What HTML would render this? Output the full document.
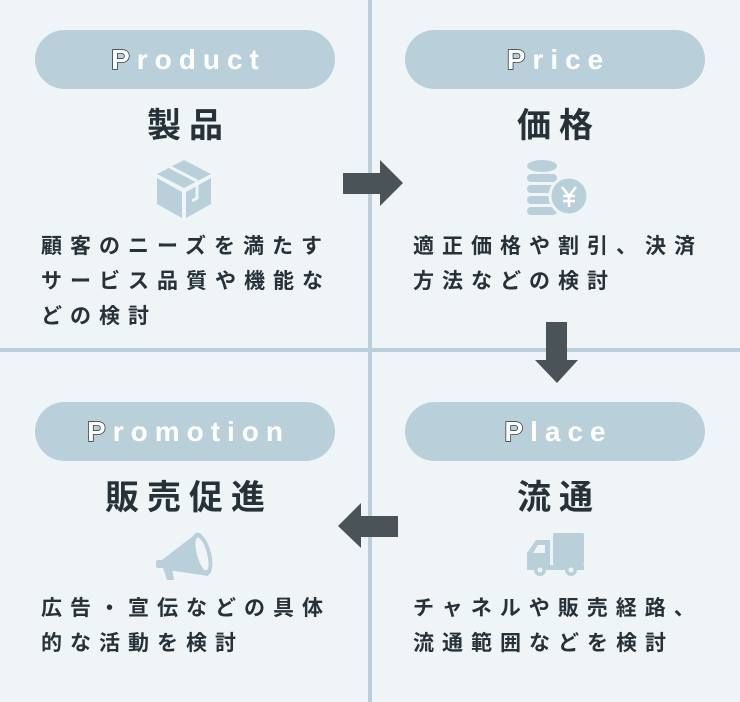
<!DOCTYPE html>
<html><head><meta charset="utf-8"><style>
*{margin:0;padding:0;box-sizing:border-box}
body{width:740px;height:702px;background:#eff4f7;position:relative;overflow:hidden;font-family:"Liberation Sans","Noto Sans CJK JP",sans-serif;color:#263238}
.v{position:absolute;left:368px;top:0;width:4px;height:702px;background:#b9cfda}
.h{position:absolute;left:0;top:348px;width:740px;height:4px;background:#b9cfda}
.pill{position:absolute;width:300px;height:59px;border-radius:30px;background:#b9d0db;color:#fff;font-weight:bold;font-size:28px;letter-spacing:7px;text-align:center;line-height:59px;padding-left:7px}
.pill b{color:#fff;-webkit-text-stroke:1.5px #263238;paint-order:stroke fill}
.t{position:absolute;width:300px;text-align:center;font-size:34px;font-weight:bold;letter-spacing:8px;padding-left:8px;line-height:40px}
.d{position:absolute;font-size:21px;font-weight:bold;letter-spacing:8px;line-height:35px;white-space:nowrap}
svg{position:absolute}
</style></head><body>
<div class="v"></div><div class="h"></div>

<div class="pill" style="left:35px;top:30px"><b>P</b>roduct</div>
<div class="pill" style="left:405px;top:30px"><b>P</b>rice</div>
<div class="pill" style="left:35px;top:402px"><b>P</b>romotion</div>
<div class="pill" style="left:405px;top:402px"><b>P</b>lace</div>

<div class="t" style="left:35px;top:106px">製品</div>
<div class="t" style="left:405px;top:106px">価格</div>
<div class="t" style="left:35px;top:478px">販売促進</div>
<div class="t" style="left:405px;top:478px">流通</div>

<div class="d" style="left:41px;top:229px">顧客のニーズを満たす<br>サービス品質や機能な<br>どの検討</div>
<div class="d" style="left:413px;top:229px">適正価格や割引、決済<br>方法などの検討</div>
<div class="d" style="left:41px;top:591px">広告・宣伝などの具体<br>的な活動を検討</div>
<div class="d" style="left:413px;top:591px">チャネルや販売経路、<br>流通範囲などを検討</div>

<svg width="740" height="702" style="left:0;top:0">
<polygon fill="#4a5458" points="343,173 380,173 380,160 403,183 380,206 380,194 343,194"/>
<polygon fill="#4a5458" points="546,322 567,322 567,360 578,360 557,383 535,360 546,360"/>
<polygon fill="#4a5458" points="398,516 361,516 361,503 338,526 361,548 361,537 398,537"/>
<g fill="#b9d0db">
<polygon points="157,174 184,160 211,174 184,188"/>
<polygon points="157,178 182,192 182,218 157,204"/>
<polygon points="186,192 211,178 211,204 186,218"/>
</g>
<g stroke="#eff4f7" stroke-width="3" fill="none"><line x1="170" y1="167" x2="197" y2="181"/><polyline points="197,181 197,198 192,201"/></g>
<g fill="#b9d0db">
<ellipse cx="542" cy="166" rx="15" ry="6"/>
<rect x="527" y="174" width="30" height="8" rx="4"/>
<rect x="527" y="185" width="30" height="8" rx="4"/>
<rect x="527" y="196" width="30" height="8" rx="4"/>
<rect x="527" y="207" width="30" height="8" rx="4"/>
<circle cx="569" cy="196" r="19" stroke="#eff4f7" stroke-width="3"/>
</g>
<g stroke="#fff" stroke-width="2.5" fill="none"><polyline points="562,187 569,196 576,187"/><line x1="569" y1="196" x2="569" y2="207"/><line x1="563" y1="196" x2="575" y2="196"/><line x1="563" y1="201" x2="575" y2="201"/></g>
<g fill="#b9d0db">
<polygon points="158,563 197,533 208,576 168,570"/>
<ellipse cx="202" cy="554" rx="9" ry="22" transform="rotate(-15 202 554)"/>
<rect x="156" y="560" width="14" height="8" rx="2"/>
<polygon points="163,568 172,568 174,580 167,580"/>
</g>
<ellipse cx="202" cy="554" rx="5" ry="17" transform="rotate(-15 202 554)" fill="#eff4f7"/>
<g fill="#b9d0db">
<rect x="553" y="533" width="31" height="32" rx="2"/>
<path d="M527,567 L527,553 L536,540 L550,540 L550,567 Z"/>
<rect x="527" y="565" width="57" height="5"/>
<circle cx="540" cy="570" r="6"/><circle cx="571" cy="570" r="6"/>
</g>
<g fill="#eff4f7"><circle cx="540" cy="570" r="2.5"/><circle cx="571" cy="570" r="2.5"/><path d="M533,553 L538,545 L545,545 L545,553Z"/></g>
</svg>
</body></html>
